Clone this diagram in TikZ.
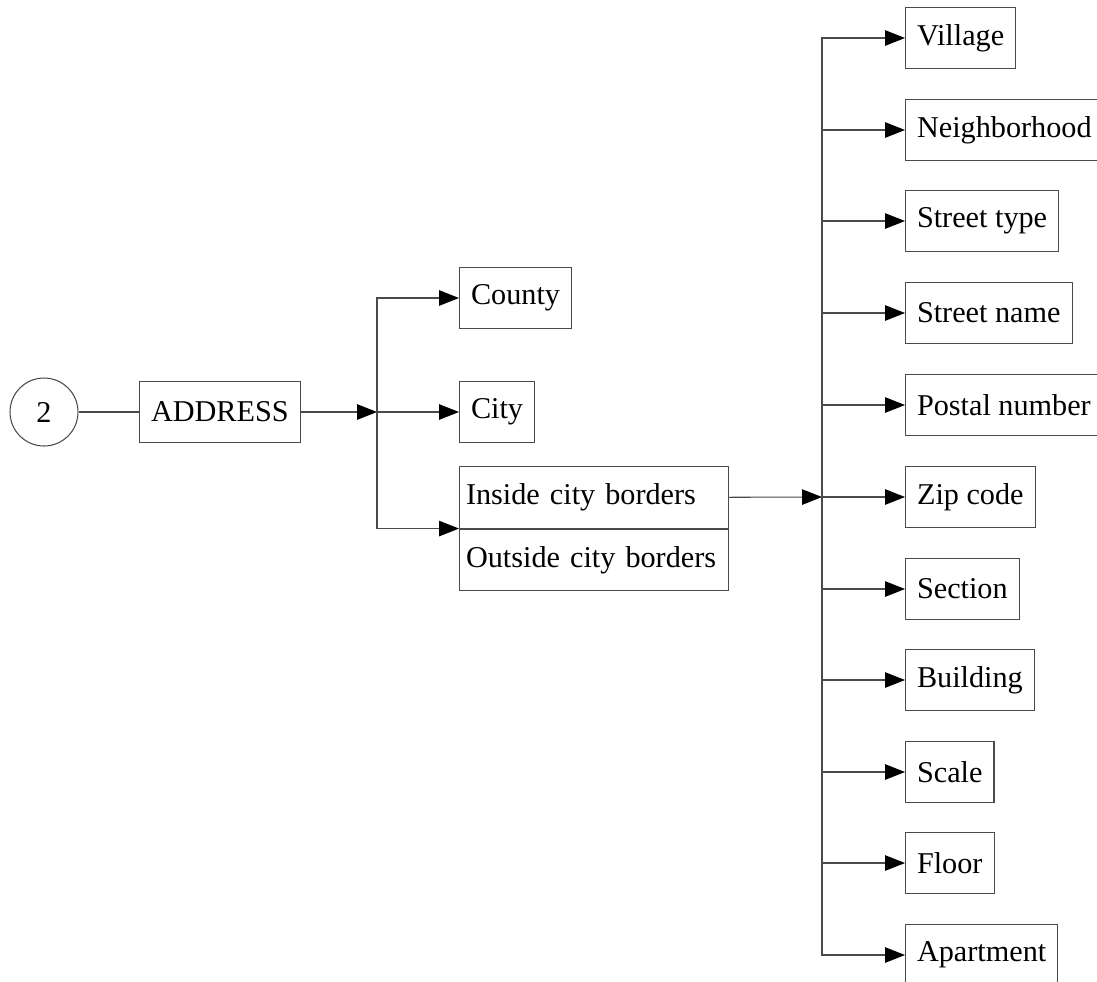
\documentclass[tikz,border=0pt]{standalone}
\usepackage{fontspec}
\setmainfont{Liberation Serif}
\usepackage{tikz}
\usetikzlibrary{arrows.meta, positioning, calc}
\definecolor{boxline}{HTML}{4a4a4a}

\begin{document}
\begin{tikzpicture}[
    x=0.02cm, y=-0.02cm,
    font=\fontsize{17.2}{20}\selectfont,
    field_node/.style={rectangle, draw=boxline, line width=0.6pt, minimum height=1.22cm, inner xsep=0.23cm, anchor=west},
    split_node/.style={rectangle, draw=boxline, line width=0.6pt, minimum height=1.23cm, text width=5.12cm, inner xsep=0.13cm, align=left, anchor=north west},
    start_node/.style={circle, draw=boxline, line width=0.6pt, minimum size=1.36cm, inner sep=0pt},
    arrow/.style={-{Triangle[length=0.4cm, width=0.31cm, color=black]}, line width=0.6pt, draw=boxline},
    link/.style={line width=0.6pt, draw=boxline}
]
\useasboundingbox (0,0) rectangle (1097,981);

\node[start_node] (start) at (44,412) {2};
\node[field_node] (address) at (139,412) {ADDRESS};

% Middle column
\coordinate (mid) at (377,412);
\node[field_node] (county) at (459,298) {County};
\node[field_node] (city) at (459,412) {City};
\node[split_node] (inside) at (459,466) {Inside city borders};
\node[split_node, below=0pt of inside] (outside) {Outside city borders};

% Right column
\coordinate (right) at (822,497);
\node[field_node] (village) at (905,38) {Village};
\node[field_node] (neighborhood) at (905,130) {Neighborhood};
\node[field_node] (streettype) at (905,221) {Street type};
\node[field_node] (streetname) at (905,313) {Street name};
\node[field_node] (postal) at (905,405) {Postal number};
\node[field_node] (zip) at (905,497) {Zip code};
\node[field_node] (section) at (905,589) {Section};
\node[field_node] (building) at (905,680) {Building};
\node[field_node] (scale) at (905,772) {Scale};
\node[field_node] (floor) at (905,863) {Floor};
\node[field_node] (apartment) at (905,955) {Apartment};

% Connections
\draw[link] (start) -- (address);
\draw[arrow] (address) -- (mid);
\draw[arrow] (mid) |- (county.west);
\draw[arrow] (mid) -- (city.west);
\draw[arrow] (mid) |- (inside.south west);
\draw[arrow] (inside.east) -- (right);
\draw[arrow] (right) |- (village.west);
\draw[arrow] (right) |- (neighborhood.west);
\draw[arrow] (right) |- (streettype.west);
\draw[arrow] (right) |- (streetname.west);
\draw[arrow] (right) |- (postal.west);
\draw[arrow] (right) -- (zip.west);
\draw[arrow] (right) |- (section.west);
\draw[arrow] (right) |- (building.west);
\draw[arrow] (right) |- (scale.west);
\draw[arrow] (right) |- (floor.west);
\draw[arrow] (right) |- (apartment.west);

\end{tikzpicture}
\end{document}
